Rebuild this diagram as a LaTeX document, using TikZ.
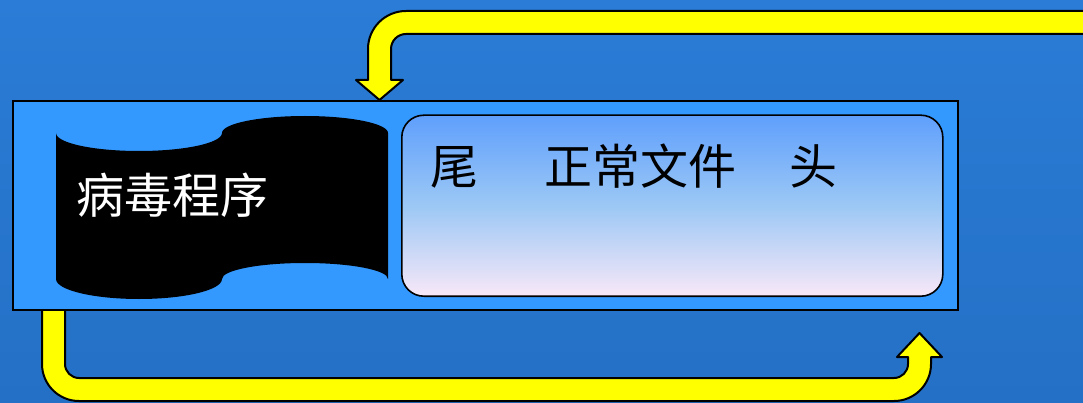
\documentclass[tikz,border=0pt]{standalone}
\usepackage{fontspec}
\newfontfamily\cjk{Noto Sans CJK SC}
\definecolor{bgtop}{RGB}{42,124,214}
\definecolor{bgbot}{RGB}{36,112,198}
\definecolor{panel}{RGB}{51,153,255}
\definecolor{arrowyellow}{RGB}{255,255,0}
\definecolor{gtop}{RGB}{95,159,252}
\definecolor{gmid}{RGB}{156,200,245}
\definecolor{gbot}{RGB}{248,232,248}
\tikzset{
  flowarrow/.style={fill=arrowyellow, draw=black, line width=2pt, line join=round},
  panelbox/.style={fill=panel, draw=black, line width=2pt},
  filebox/.style={draw=black, line width=1.6pt, top color=gtop, bottom color=gbot, middle color=gmid, rounded corners=22pt},
  banner/.style={fill=black},
  bigtext/.style={font=\cjk\fontsize{48}{50}\selectfont, inner sep=0pt, anchor=base}
}
\begin{document}
\begin{tikzpicture}[x=1pt,y=1pt]
\useasboundingbox (0,0) rectangle (1083,402);
\clip (0,0) rectangle (1083,402);
\shade[top color=bgtop, bottom color=bgbot] (0,0) rectangle (1083,402);
% top arrow (from right edge back to the panel)
\path[flowarrow] (1095,391) -- (406,391) arc[start angle=90, end angle=180, radius=38]
  -- (368,322) -- (356,322) -- (379.5,302) -- (403,322) -- (391,322) -- (391,353)
  arc[start angle=180, end angle=90, radius=15] -- (1095,368) -- cycle;
% bottom arrow
\path[flowarrow] (42,97) -- (42,38) arc[start angle=180, end angle=270, radius=37]
  -- (894,1) arc[start angle=270, end angle=360, radius=37]
  -- (931,45) -- (942,45) -- (919.5,69) -- (897,45) -- (908,45) -- (908,38)
  arc[start angle=0, end angle=-90, radius=14] -- (79,24)
  arc[start angle=270, end angle=180, radius=14] -- (65,97) -- cycle;
% panel
\node[panelbox, minimum width=945pt, minimum height=209pt, inner sep=0pt, anchor=south west] (panel) at (12,91) {};
% virus banner
\path[banner] (56,269) arc[start angle=180, end angle=360, x radius=83, y radius=18]
  arc[start angle=180, end angle=0, x radius=83, y radius=17]
  -- (388,123) arc[start angle=0, end angle=180, x radius=83, y radius=16]
  arc[start angle=0, end angle=-180, x radius=83, y radius=20] -- cycle;
\node[bigtext, text=white] (virus) at (172,189) {病毒程序};
% normal file
\node[filebox, minimum width=541pt, minimum height=181pt, inner sep=0pt, anchor=south west] (file) at (401,105) {};
\node[bigtext] (tail) at (454,218) {尾};
\node[bigtext] (body) at (640,218) {正常文件};
\node[bigtext] (head) at (813,218) {头};
\end{tikzpicture}
\end{document}
